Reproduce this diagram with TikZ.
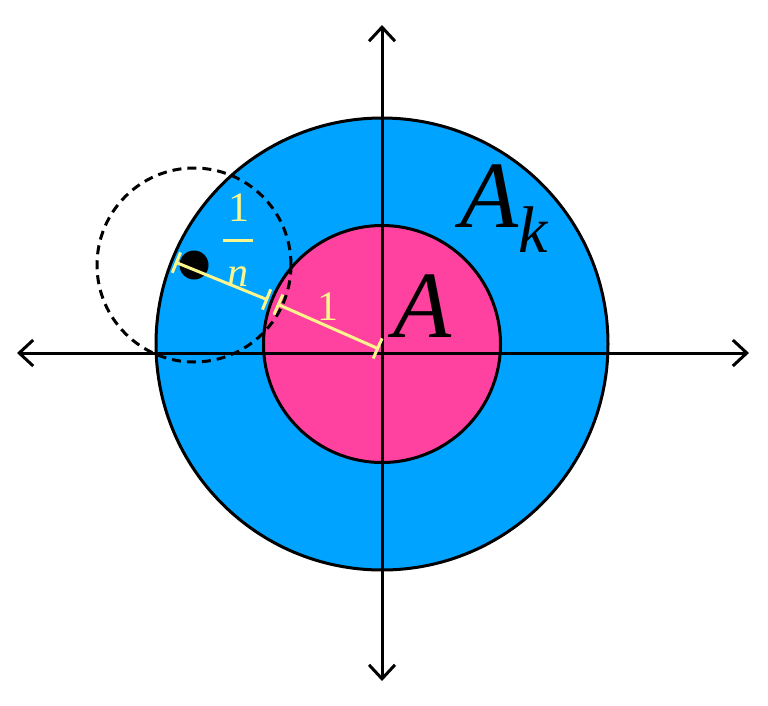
\documentclass[tikz,border=0pt]{standalone}
\usepackage{fontspec}
\setmainfont{Liberation Serif}
\usetikzlibrary{arrows.meta}
\definecolor{ringblue}{RGB}{0,163,255}
\definecolor{diskpink}{RGB}{255,66,160}
\definecolor{lblyellow}{RGB}{250,245,140}
\begin{document}
\begin{tikzpicture}[x=1pt,y=-1pt,
  axisline/.style={line width=3pt, {Straight Barb[length=14pt,width=26pt]}-{Straight Barb[length=14pt,width=26pt]}},
  disk/.style={circle, draw=black, line width=3pt, inner sep=0pt, outer sep=0pt},
  seg/.style={draw=lblyellow, line width=3pt, {Bar[width=22pt]}-{Bar[width=22pt]}},
  lbl/.style={inner sep=0pt, text=lblyellow, font=\fontsize{42}{42}\selectfont},
  bigA/.style={anchor=base west, inner sep=0pt, font=\fontsize{95}{95}\selectfont\itshape}]
\useasboundingbox (0,0) rectangle (768,705);
% regions
\node[disk, fill=ringblue, minimum size=452pt] (outer) at (382,344) {};
\node[disk, fill=diskpink, minimum size=237pt] (inner) at (382,344) {};
% axes
\coordinate (L) at (17,353);
\coordinate (R) at (749,353);
\coordinate (T) at (382,25);
\coordinate (B) at (382,681);
\draw[axisline] (L) -- (R);
\draw[axisline] (T) -- (B);
% neighbourhood ball
\node[circle, draw=black, line width=3pt, dash pattern=on 9pt off 6pt, minimum size=194pt, inner sep=0pt] (ball) at (194,265) {};
\node[circle, fill=black, minimum size=29pt, inner sep=0pt] (pt) at (194,265) {};
% yellow radii
\coordinate (P0) at (379,349);
\coordinate (P1) at (277,304);
\coordinate (P2) at (268,300);
\coordinate (P3) at (175,262);
\draw[seg] (P3) -- (P2);
\draw[seg] (P1) -- (P0);
% labels
\node[lbl] (one) at (328,307) {1};
\node[lbl] (num) at (238.5,207.5) {1};
\coordinate (barL) at (223,240);
\coordinate (barR) at (253,240);
\draw[lblyellow, line width=3pt] (barL) -- (barR);
\node[lbl, font=\fontsize{42}{42}\selectfont\itshape] (den) at (237.5,276.5) {n};
\node[bigA] (Alab) at (393,337) {A};
\node[bigA] (Aklab) at (460,227) {A\raisebox{-25pt}{\fontsize{66}{66}\selectfont k}};
\end{tikzpicture}
\end{document}
